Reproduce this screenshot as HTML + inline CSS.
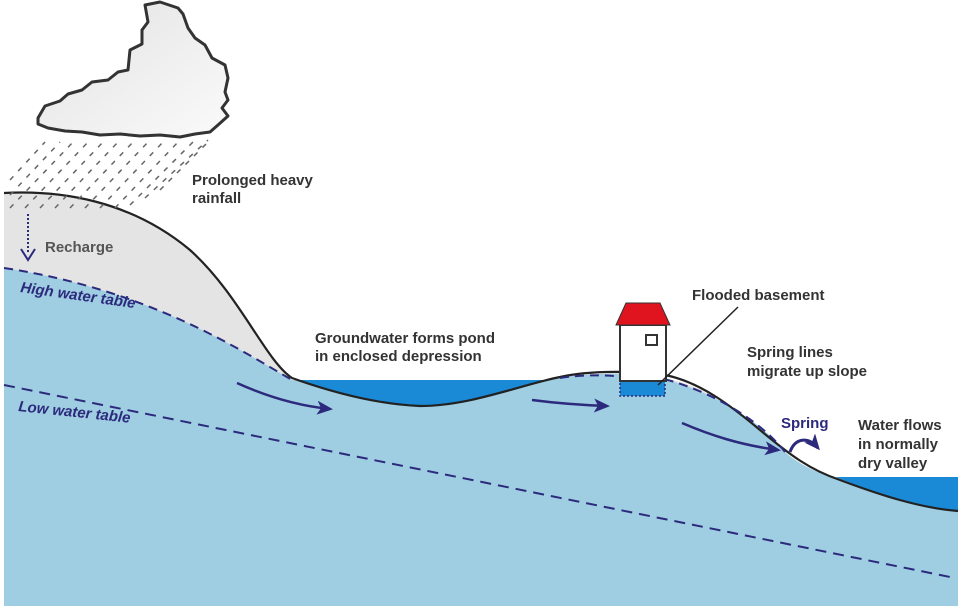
<!DOCTYPE html>
<html><head><meta charset="utf-8"><style>
html,body{margin:0;padding:0;background:#fff;}
svg{display:block;}
text{font-family:"Liberation Sans",sans-serif;font-weight:bold;font-size:15px;fill:#333;}
.b{fill:#2c2a7c;}
</style></head><body>
<svg width="961" height="609" viewBox="0 0 961 609" xmlns="http://www.w3.org/2000/svg">
<defs>
<marker id="ah" markerWidth="16" markerHeight="14" refX="13" refY="7" orient="auto" markerUnits="userSpaceOnUse">
<path d="M0,0 L16,7 L0,14 L4,7 Z" fill="#2c2a7c"/></marker>
<linearGradient id="cg" x1="0" y1="0" x2="1" y2="1"><stop offset="0" stop-color="#e2e2e2"/><stop offset="1" stop-color="#fafafa"/></linearGradient>
</defs>
<path d="M4,193 C60,190 130,200 190,250 C240,295 265,360 292,378 L292,380 C240,350 150,290 4,268 Z" fill="#e4e4e4"/>
<path d="M600,372 C650,372 700,380 730,410 C760,440 775,450 785,452 L785,452 C760,420 710,390 650,378 Z" fill="#e4e4e4"/>
<path d="M4,268 C150,290 240,350 292,380 L545,380 C580,372 640,372 660,378 C710,390 760,420 785,452 C800,465 820,475 840,478 L958,478 L958,606 L4,606 Z" fill="#9fcde2"/>
<path d="M295,380 L548,380 C500,395 450,407 420,406 C380,404 330,390 295,380 Z" fill="#1a8ad6"/>
<path d="M836,477 L958,477 L958,511 C920,508 880,495 836,477 Z" fill="#1a8ad6"/>
<rect x="620" y="381" width="45" height="15" fill="#1a8ad6" stroke="#2c2a7c" stroke-width="1.5" stroke-dasharray="2,2"/>
<path d="M4,193 C60,190 130,200 190,250 C240,295 265,360 292,378 C320,388 370,404 420,406 C470,406 520,385 560,377 C590,370 640,371 665,375 C700,382 730,405 760,430 C790,455 810,470 840,480 C880,495 920,508 958,511" fill="none" stroke="#222" stroke-width="2.2"/>
<path d="M4,268 C150,290 240,350 292,380" fill="none" stroke="#2c2a7c" stroke-width="2" stroke-dasharray="9,6"/>
<path d="M560,378 C600,372 620,378 660,378 C710,390 760,420 785,452" fill="none" stroke="#2c2a7c" stroke-width="2" stroke-dasharray="9,6"/>
<path d="M4,385 L955,578" fill="none" stroke="#2c2a7c" stroke-width="2" stroke-dasharray="11,7"/>
<path d="M237,383 C270,398 300,406 330,409" fill="none" stroke="#2c2a7c" stroke-width="2.5" marker-end="url(#ah)"/>
<path d="M532,400 C555,403 580,405 607,406" fill="none" stroke="#2c2a7c" stroke-width="2.5" marker-end="url(#ah)"/>
<path d="M682,423 C710,435 740,445 778,450" fill="none" stroke="#2c2a7c" stroke-width="2.5" marker-end="url(#ah)"/>
<path d="M790,452 C795,438 808,436 818,448" fill="none" stroke="#2c2a7c" stroke-width="3" marker-end="url(#ah)"/>
<path d="M28,214 L28,252" stroke="#2c2a7c" stroke-width="2" stroke-dasharray="2,2"/>
<path d="M21,249 L28,260 L35,249" fill="none" stroke="#2c2a7c" stroke-width="2"/>
<rect x="620" y="325" width="46" height="56" fill="#fff" stroke="#333" stroke-width="2"/>
<path d="M616,325 L626,303 L660,303 L670,325 Z" fill="#e0141e" stroke="#333" stroke-width="1"/>
<rect x="646" y="335" width="11" height="10" fill="#fff" stroke="#333" stroke-width="2"/>
<line x1="738" y1="307" x2="658" y2="385" stroke="#222" stroke-width="1.5"/>
<path d="M38,118 L45,106 L60,101 L68,94 L82,90 L92,82 L108,80 L118,72 L128,70 L130,50 L142,44 L142,30 L148,22 L145,5 L160,2 L178,8 L183,14 L188,28 L195,38 L205,45 L212,58 L225,65 L228,78 L225,92 L228,100 L222,108 L228,116 L218,125 L210,132 L195,134 L180,137 L160,135 L140,136 L120,134 L100,135 L82,132 L65,131 L48,128 L38,124 Z" fill="url(#cg)" stroke="#333" stroke-width="3" stroke-linejoin="round"/>
<g stroke="#666" stroke-width="1.5" stroke-dasharray="5,7">
<line x1="10" y1="208" x2="75" y2="140"/>
<line x1="25" y1="208" x2="90" y2="140"/>
<line x1="40" y1="208" x2="105" y2="140"/>
<line x1="55" y1="208" x2="120" y2="140"/>
<line x1="70" y1="208" x2="135" y2="140"/>
<line x1="85" y1="208" x2="150" y2="140"/>
<line x1="100" y1="208" x2="165" y2="140"/>
<line x1="115" y1="208" x2="180" y2="140"/>
<line x1="130" y1="205" x2="195" y2="140"/>
<line x1="145" y1="198" x2="208" y2="140"/>
<line x1="160" y1="190" x2="210" y2="140"/>
<line x1="10" y1="195" x2="60" y2="142"/>
<line x1="10" y1="180" x2="45" y2="142"/>
</g>
<text x="192" y="185">Prolonged heavy</text>
<text x="192" y="203">rainfall</text>
<text x="45" y="252" style="fill:#555">Recharge</text>
<text x="20" y="292" class="b" style="font-style:italic" transform="rotate(8 20 292)">High water table</text>
<text x="18" y="411" class="b" style="font-style:italic" transform="rotate(6 18 411)">Low water table</text>
<text x="315" y="343">Groundwater forms pond</text>
<text x="315" y="361">in enclosed depression</text>
<text x="692" y="300">Flooded basement</text>
<text x="747" y="357">Spring lines</text>
<text x="747" y="376">migrate up slope</text>
<text x="781" y="428" class="b">Spring</text>
<text x="858" y="430">Water flows</text>
<text x="858" y="449">in normally</text>
<text x="858" y="468">dry valley</text>
</svg>
</body></html>
